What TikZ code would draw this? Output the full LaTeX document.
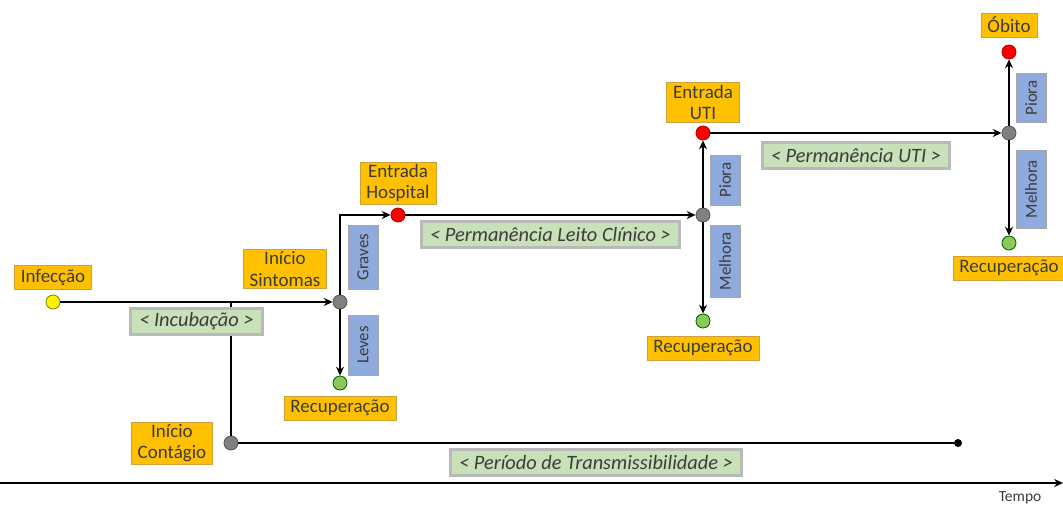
\documentclass[tikz,border=0pt]{standalone}
\usepackage{fontspec}
\setmainfont{Carlito}
\usetikzlibrary{positioning,arrows.meta}
\definecolor{BoxGold}{RGB}{255,192,0}
\definecolor{BoxGoldLine}{RGB}{205,160,60}
\definecolor{LblGreen}{RGB}{200,225,185}
\definecolor{LblBlue}{RGB}{143,170,220}
\definecolor{TxtDark}{RGB}{60,60,60}
\definecolor{DotGray}{RGB}{128,128,128}
\definecolor{DotGreen}{RGB}{140,200,90}
\tikzset{
  evt/.style={rectangle, draw=BoxGoldLine, fill=BoxGold, text=TxtDark, align=center,
    minimum height=0.6cm, inner xsep=4.5pt, inner ysep=1.5pt, font=\fontsize{13.5}{15.5}\selectfont},
  per/.style={rectangle, draw=gray!55, fill=LblGreen, text=TxtDark,
    minimum height=0.65cm, inner xsep=6pt, inner ysep=1pt, font=\fontsize{14.5}{16}\selectfont\itshape},
  cond/.style={rectangle, draw=gray!70, fill=LblBlue, text=TxtDark, rotate=90,
    minimum height=0.75cm, inner xsep=5pt, font=\fontsize{12}{14}\selectfont},
  dot/.style={circle, minimum size=0.35cm, inner sep=0pt, line width=0.6pt},
  flow/.style={-{Stealth[length=2.2mm, width=2mm]}, line width=2.1pt},
  span/.style={line width=2.1pt}
}

\begin{document}
\begin{tikzpicture}[x=0.025cm, y=-0.025cm]
  \useasboundingbox (0,0) rectangle (1063,505);
  % marcos no tempo
  \node[dot, fill=yellow, draw=olive] (inf) at (53,302) {};
  \node[dot, fill=DotGray, draw=gray!70!black] (sint) at (340,302) {};
  \node[dot, fill=DotGray, draw=gray!70!black] (cont) at (231,443) {};
  \node[circle, fill=black, minimum size=0.2cm, inner sep=0pt] (fimcont) at (958,443) {};
  \node[dot, fill=red, draw=red!70!black] (hosp) at (398,215) {};
  \node[dot, fill=DotGreen, draw=green!40!black] (rec1) at (340,383) {};
  \node[dot, fill=DotGray, draw=gray!70!black] (leito) at (703,215) {};
  \node[dot, fill=red, draw=red!70!black] (uti) at (703,133) {};
  \node[dot, fill=DotGreen, draw=green!40!black] (rec2) at (703,321) {};
  \node[dot, fill=DotGray, draw=gray!70!black] (perm) at (1009,133) {};
  \node[dot, fill=red, draw=red!70!black] (obito) at (1009,52) {};
  \node[dot, fill=DotGreen, draw=green!40!black] (rec3) at (1009,243) {};
  \coordinate (ramo) at (231,302);
  \coordinate (canto) at (340,215);
  \coordinate (t0) at (0,483);
  \coordinate (t1) at (1063,483);

  % rotulos
  \node[evt, above=0.13cm of inf] (linf) {Infecção};
  \node[evt] (lsint) at (285,269) {Início\\Sintomas};
  \node[evt, left=0.27cm of cont] (lcont) {Início\\Contágio};
  \node[evt, above=0.08cm of hosp] (lhosp) {Entrada\\Hospital};
  \node[evt, above=0.08cm of uti] (luti) {Entrada\\UTI};
  \node[evt, above=0.18cm of obito] (lobito) {Óbito};
  \node[evt, below=0.13cm of rec1] (lrec1) {Recuperação};
  \node[evt, below=0.18cm of rec2] (lrec2) {Recuperação};
  \node[evt, below=0.13cm of rec3] (lrec3) {Recuperação};

  % ligacoes
  \draw[span] (ramo) -- (cont);
  \draw[span] (cont) -- (fimcont)
    node[midway, below=0.12cm, per] (ltrans) {< Período de Transmissibilidade >};
  \draw[flow] (inf) -- (sint)
    node[midway, below=0.12cm, per] (lincub) {< Incubação >};
  \draw[flow] (sint) -- (canto) -- (hosp);
  \draw[flow] (sint) -- (rec1);
  \draw[flow] (hosp) -- (leito)
    node[midway, below=0.13cm, per] (lleito) {< Permanência Leito Clínico >};
  \draw[flow] (leito) -- (uti);
  \draw[flow] (leito) -- (rec2);
  \draw[flow] (uti) -- (perm)
    node[midway, below=0.2cm, per] (luti2) {< Permanência UTI >};
  \draw[flow] (perm) -- (obito);
  \draw[flow] (perm) -- (rec3);

  % desfechos
  \node[cond, minimum width=1.6cm] (graves) at (363,257) {Graves};
  \node[cond, minimum width=1.5cm] (leves) at (363,345) {Leves};
  \node[cond, minimum width=1.25cm] (piora1) at (725,180) {Piora};
  \node[cond, minimum width=1.8cm] (melhora1) at (725,261) {Melhora};
  \node[cond, minimum width=1.2cm] (piora2) at (1031,98) {Piora};
  \node[cond, minimum width=1.95cm] (melhora2) at (1031,189) {Melhora};

  % eixo
  \draw[-{Stealth[length=2.2mm, width=2mm]}, line width=1.6pt] (t0) -- (t1);
  \node[font=\fontsize{11}{13}\selectfont, text=TxtDark] (tempo) at (1020,498) {Tempo};
\end{tikzpicture}
\end{document}
